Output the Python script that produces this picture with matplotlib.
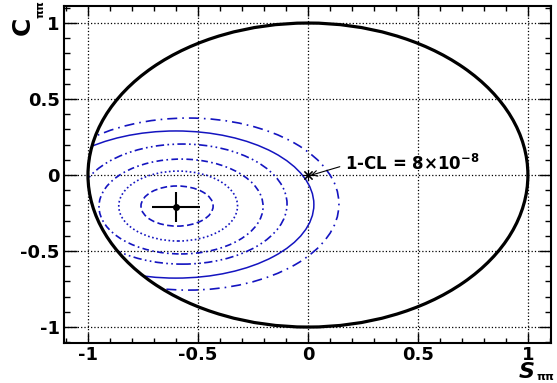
import numpy as np
import matplotlib
matplotlib.use('Agg')
import matplotlib.pyplot as plt
from matplotlib.patches import Ellipse, Circle

# measured point (S, C) with errors
pt_s, pt_c = -0.60, -0.21
err_s, err_c = 0.11, 0.10

# contour shapes: centre and half axes
ell_cx = [-0.595, -0.59, -0.577, -0.57, -0.60, -0.545]
ell_cy = [-0.204, -0.204, -0.207, -0.191, -0.194, -0.191]
ell_a = [0.164, 0.27, 0.373, 0.475, 0.627, 0.686]
ell_b = [0.132, 0.23, 0.312, 0.395, 0.484, 0.566]
ell_dash = [(4, 2), (1, 1.5), (4, 2, 1, 2), (5, 2, 1, 2, 1, 2), None, (6, 3, 1, 3)]

x_ticks = [-1, -0.5, 0, 0.5, 1]
x_ticklabels = ['-1', '-0.5', '0', '0.5', '1']
y_ticks = [-1, -0.5, 0, 0.5, 1]
y_ticklabels = ['-1', '-0.5', '0', '0.5', '1']

cl_label = r'1-CL = 8$\times$10$^{\mathbf{-8}}$'

plt.rcParams['font.family'] = 'DejaVu Sans'
plt.rcParams['font.weight'] = 'bold'
plt.rcParams['mathtext.fontset'] = 'dejavusans'
plt.rcParams['mathtext.default'] = 'bf'

fig = plt.figure(figsize=(5.57, 3.83), dpi=100)
ax = fig.add_axes([0.1149, 0.1044, 0.8743, 0.8799])

ax.set_xlim(-1.109, 1.105)
ax.set_ylim(-1.105, 1.112)

# grid
for v in x_ticks:
    ax.axvline(v, color='black', ls=':', lw=0.9, zorder=1)
for v in y_ticks:
    ax.axhline(v, color='black', ls=':', lw=0.9, zorder=1)

# physical boundary S^2 + C^2 = 1
circ = Circle((0, 0), 1.0, fill=False, ec='black', lw=2.3, zorder=4)
ax.add_patch(circ)
clip = Circle((0, 0), 1.0, transform=ax.transData)

blue = '#1414c0'
for cx, cy, a, b, d in zip(ell_cx, ell_cy, ell_a, ell_b, ell_dash):
    e = Ellipse((cx, cy), 2 * a, 2 * b, fill=False, ec=blue, lw=1.1, zorder=3)
    if d is not None:
        e.set_linestyle((0, d))
        e.set_linewidth(1.2)
    ax.add_patch(e)
    e.set_clip_path(clip)

ax.errorbar([pt_s], [pt_c], xerr=[err_s], yerr=[err_c], fmt='o', ms=4,
            color='black', lw=1.5, capsize=0, zorder=5)

# point at the origin with its CL
ax.plot([0], [0], marker=(8, 2, 0), ms=8, color='black', mew=0.8, zorder=6)
ax.annotate('', xy=(0.012, -0.002), xytext=(0.145, 0.055),
            arrowprops=dict(arrowstyle='->', lw=0.8, color='black',
                            shrinkA=0, shrinkB=0), zorder=6)
ax.text(0.17, 0.072, cl_label, fontsize=12, fontweight='bold',
        ha='left', va='center', zorder=6)

ax.set_xticks(x_ticks)
ax.set_xticklabels(x_ticklabels)
ax.set_yticks(y_ticks)
ax.set_yticklabels(y_ticklabels)
ax.set_xticks(np.arange(-1.1, 1.11, 0.1), minor=True)
ax.set_yticks(np.arange(-1.1, 1.11, 0.1), minor=True)

ax.tick_params(axis='x', which='major', direction='in', length=7, width=1,
               top=True, labelsize=13, pad=2)
ax.tick_params(axis='x', which='minor', direction='in', length=3.5, width=1,
               top=True)
ax.tick_params(axis='y', which='major', direction='in', length=9, width=1,
               right=True, labelsize=13, pad=3)
ax.tick_params(axis='y', which='minor', direction='in', length=4.5, width=1,
               right=True)
for lab in ax.get_xticklabels() + ax.get_yticklabels():
    lab.set_fontweight('bold')

for sp in ax.spines.values():
    sp.set_linewidth(1.5)

# axis titles, main letter and small pi-pi subscript placed separately
fig.text(23 / 557, 1 - 26 / 383, 'C', rotation=90, fontsize=18,
         fontweight='bold', ha='center', va='center')
fig.text(41 / 557, 1 - 10 / 383, r'$\mathrm{\pi\pi}$', rotation=90,
         fontsize=8, ha='center', va='center')
fig.text(527 / 557, 1 - 372 / 383, 'S', fontsize=16, fontweight='bold',
         fontstyle='italic', ha='center', va='center')
fig.text(545 / 557, 1 - 377 / 383, r'$\mathrm{\pi\pi}$', fontsize=8,
         ha='center', va='center')

fig.savefig('out.png', dpi=100)
